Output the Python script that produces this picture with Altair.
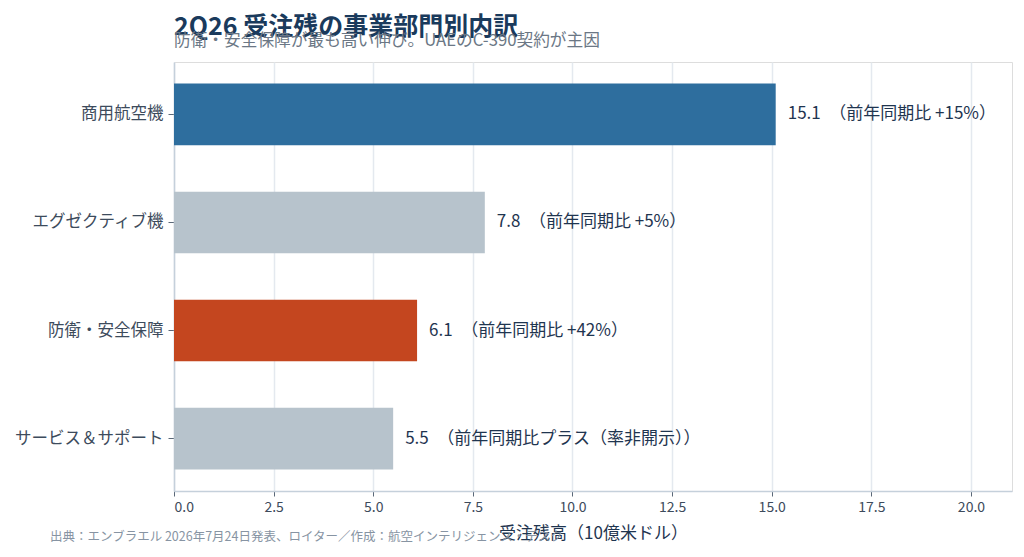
import altair as alt
import pandas as pd

segments = ["商用航空機", "エグゼクティブ機", "防衛・安全保障", "サービス＆サポート"]
backlog = [15.1, 7.8, 6.1, 5.5]
yoy = ["（前年同期比 +15%）", "（前年同期比 +5%）", "（前年同期比 +42%）", "（前年同期比プラス（率非開示））"]
colors = ["#2e6e9e", "#b7c3cc", "#c4461f", "#b7c3cc"]

title = "2Q26 受注残の事業部門別内訳"
subtitle = "防衛・安全保障が最も高い伸び。UAEのC-390契約が主因"
source = "出典：エンブラエル 2026年7月24日発表、ロイター／作成：航空インテリジェンス・デスク"
x_title = "受注残高（10億米ドル）"

FONT = "Noto Sans CJK JP"

df = pd.DataFrame({
    "segment": segments,
    "value": backlog,
    "label": [f"{v:.1f}　{t}" for v, t in zip(backlog, yoy)],
    "color": colors,
})

W, H = 838, 429

y_enc = alt.Y("segment:N", sort=segments, title=None,
              scale=alt.Scale(paddingInner=0.43, paddingOuter=0.2),
              axis=alt.Axis(labelFont=FONT, labelFontSize=16.5, labelColor="#3d4b5c",
                            labelPadding=5, tickColor="#5a6878", tickSize=6,
                            domainColor="#c5d0db", domainWidth=1.5, grid=False))
x_enc = alt.X("value:Q", title=x_title,
              scale=alt.Scale(domain=[0, 21.03], nice=False),
              axis=alt.Axis(values=[0, 2.5, 5, 7.5, 10, 12.5, 15, 17.5, 20], format=".1f",
                            labelFont=FONT, labelFontSize=14, labelColor="#3d4b5c",
                            titleFont=FONT, titleFontSize=17, titleColor="#1f3550",
                            titleFontWeight="normal", titlePadding=11,
                            tickColor="#5a6878", tickSize=5, labelPadding=4,
                            domainColor="#c5d0db", domainWidth=1.5,
                            grid=True, gridColor="#e4e9ef", gridWidth=1.5))

base = alt.Chart(df)

bars = base.mark_bar().encode(
    y=y_enc, x=x_enc,
    color=alt.Color("color:N", scale=None, legend=None),
)

labels = base.mark_text(align="left", baseline="middle", dx=12, font=FONT,
                        fontSize=17, color="#1f3550").encode(
    y=alt.Y("segment:N", sort=segments),
    x=alt.X("value:Q"),
    text="label:N",
)

foot = alt.Chart(pd.DataFrame({"t": [source]})).mark_text(
    align="left", baseline="middle", font=FONT, fontSize=12.5, color="#8794a3"
).encode(x=alt.value(50 - 174), y=alt.value(537 - 62), text="t:N")

chart = alt.layer(bars, labels, foot).properties(
    width=W, height=H,
    title=alt.TitleParams(text=title, subtitle=subtitle, anchor="start", frame="group",
                          font=FONT, fontSize=25, fontWeight="bold", color="#1a3a5c",
                          subtitleFont=FONT, subtitleFontSize=16.7, subtitleColor="#6b7785",
                          subtitlePadding=-7, offset=12),
    autosize=alt.AutoSizeParams(type="none"),
    padding={"left": 166, "top": 54, "right": 4, "bottom": 58},
).configure_view(stroke=None).configure(background="white")

chart.save("out.html", embed_options={"renderer": "svg", "actions": False})
